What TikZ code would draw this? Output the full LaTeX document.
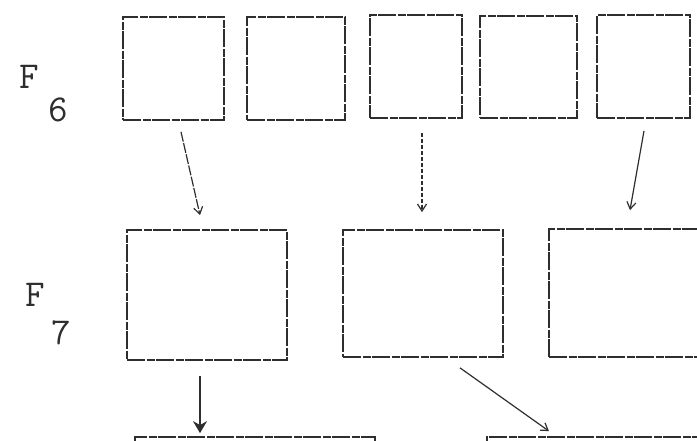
\documentclass[tikz,border=0pt]{standalone}
\usetikzlibrary{arrows.meta}
\definecolor{ink}{HTML}{2E2E2E}
\begin{document}
\begin{tikzpicture}[x=1pt,y=-1pt,
  boxst/.style={draw=ink,line width=1.7pt,dash pattern=on 18pt off 1.5pt on 8pt off 1.5pt,minimum width=#1,inner sep=0pt},
  lbl/.style={font=\fontsize{38}{40}\selectfont\ttfamily,text=ink,inner sep=0pt},
  arr/.style={draw=ink,line width=1.2pt,-{Straight Barb[length=7pt,width=9pt]}},
  boldarr/.style={draw=ink,line width=1.8pt,-{Stealth[length=12pt,width=14pt]}}]
\useasboundingbox (0,0) rectangle (697,440);
\clip (0,0) rectangle (697,440);
% top row
\node[boxst=101pt,minimum height=103pt] (b1) at (173.5,68.5) {};
\node[boxst=98pt,minimum height=103pt] (b2) at (296,68.5) {};
\node[boxst=92pt,minimum height=103pt] (b3) at (416,66.5) {};
\node[boxst=97pt,minimum height=102pt] (b4) at (528.5,67) {};
\node[boxst=93pt,minimum height=103pt] (b5) at (643.5,66.5) {};
% middle row
\node[boxst=160pt,minimum height=130pt] (mA) at (207,295) {};
\node[boxst=160pt,minimum height=127pt] (mB) at (423,293.5) {};
\node[boxst=171pt,minimum height=128pt] (mC) at (634.5,293) {};
% bottom row (cut off)
\node[boxst=240pt,minimum height=83pt] (bb1) at (255,478.5) {};
\node[boxst=273pt,minimum height=83pt] (bb2) at (623.5,478.5) {};
% labels
\node[lbl] (lF6) at (29,77) {F};
\node[lbl] (l6) at (58.5,110) {6};
\node[lbl] (lF7) at (35,295) {F};
\node[lbl] (l7) at (61.5,333) {7};
% arrows
\draw[arr,dash pattern=on 10pt off 1.5pt] ([xshift=7.5pt,yshift=-11pt]b1.south) -- ([xshift=-7pt,yshift=14pt]mA.north);
\draw[arr,dash pattern=on 4pt off 2pt] ([xshift=6pt,yshift=-14pt]b3.south) -- ([xshift=-1pt,yshift=17pt]mB.north);
\draw[arr] ([xshift=0.5pt,yshift=-12pt]b5.south) -- ([xshift=-4.5pt,yshift=18pt]mC.north);
\draw[boldarr] ([xshift=-7pt,yshift=-15pt]mA.south) -- ([xshift=-55pt,yshift=3pt]bb1.north);
\draw[arr] ([xshift=37pt,yshift=-10pt]mB.south) -- ([xshift=-74.5pt,yshift=5pt]bb2.north);
\end{tikzpicture}
\end{document}
